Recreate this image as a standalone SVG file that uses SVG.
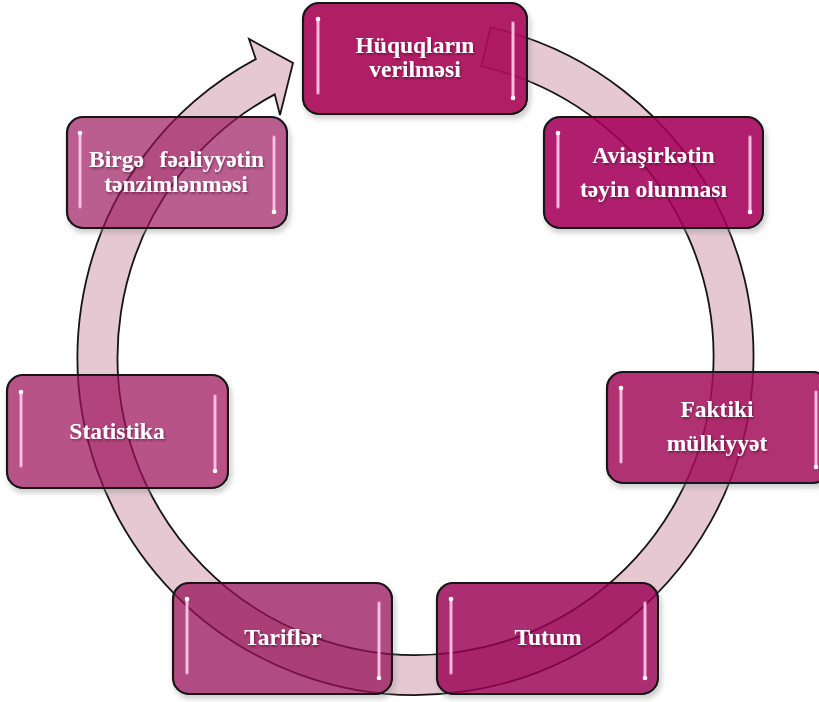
<svg xmlns="http://www.w3.org/2000/svg" width="819" height="702" viewBox="0 0 819 702">
<style>
.ring{fill:#e6c8d2;stroke:#151515;stroke-width:1.8;stroke-linejoin:miter}
.box{stroke:#141414;stroke-width:2.2}
.hl{stroke:#ff9fd2;stroke-width:3.6;stroke-linecap:round;opacity:0.7}
.hc{stroke:#ffe6f4;stroke-width:1.3;stroke-linecap:round}
.dot{fill:#ffffff}
.t{font-family:"Liberation Serif","Times New Roman",serif;font-weight:bold;font-size:23.5px;fill:#ffffff;text-anchor:middle}
</style>
<defs>
<filter id="sh" x="-10%" y="-10%" width="130%" height="140%">
<feComponentTransfer in="SourceAlpha" result="a"><feFuncA type="linear" slope="20"/></feComponentTransfer>
<feGaussianBlur in="a" stdDeviation="2.5" result="b"/>
<feOffset in="b" dx="2" dy="4" result="o"/>
<feComposite in="o" in2="a" operator="out" result="s"/>
<feColorMatrix in="s" type="matrix" values="0 0 0 0 0.3 0 0 0 0 0.3 0 0 0 0 0.3 0 0 0 0.45 0" result="sc"/>
<feMerge><feMergeNode in="sc"/><feMergeNode in="SourceGraphic"/></feMerge>
</filter>
<filter id="ts" x="-10%" y="-30%" width="120%" height="160%">
<feDropShadow dx="1" dy="1.5" stdDeviation="1" flood-color="#3a0020" flood-opacity="0.55"/>
</filter>
</defs>

<g id="connectors">
<path class="ring" d="M490.4,27.4 A338,338 0 1 1 255.8,59.1 L249,39 L293,63 L280,115 L274.7,94.4 A298,298 0 1 0 481.5,66.4 Z"/>
</g>

<g id="node-huquqlarin">
<rect class="box" x="303" y="3" width="224" height="111" rx="16" fill="#aa075a" fill-opacity="0.93" filter="url(#sh)"/>
<line class="hl" x1="318" y1="19" x2="318" y2="93"/><line class="hc" x1="318" y1="19" x2="318" y2="93"/><circle class="dot" cx="318" cy="19" r="2.3"/>
<line class="hl" x1="513" y1="23" x2="513" y2="98"/><line class="hc" x1="513" y1="23" x2="513" y2="98"/><circle class="dot" cx="513" cy="98" r="2.3"/>
<text class="t" filter="url(#ts)" x="415" y="53">Hüquqların</text>
<text class="t" filter="url(#ts)" x="415" y="77">verilməsi</text>
</g>

<g id="node-aviasirketin">
<rect class="box" x="544" y="117" width="219" height="111" rx="16" fill="#a5065a" fill-opacity="0.88" filter="url(#sh)"/>
<line class="hl" x1="558" y1="133" x2="558" y2="207"/><line class="hc" x1="558" y1="133" x2="558" y2="207"/><circle class="dot" cx="558" cy="133" r="2.3"/>
<line class="hl" x1="750" y1="137" x2="750" y2="212"/><line class="hc" x1="750" y1="137" x2="750" y2="212"/><circle class="dot" cx="750" cy="212" r="2.3"/>
<text class="t" filter="url(#ts)" x="653.5" y="163">Aviaşirkətin</text>
<text class="t" filter="url(#ts)" x="653.5" y="197">təyin olunması</text>
</g>

<g id="node-faktiki">
<rect class="box" x="607" y="372" width="222" height="111" rx="16" fill="#a2095a" fill-opacity="0.85" filter="url(#sh)"/>
<line class="hl" x1="621" y1="388" x2="621" y2="462"/><line class="hc" x1="621" y1="388" x2="621" y2="462"/><circle class="dot" cx="621" cy="388" r="2.3"/>
<line class="hl" x1="816" y1="392" x2="816" y2="467"/><line class="hc" x1="816" y1="392" x2="816" y2="467"/><circle class="dot" cx="816" cy="467" r="2.3"/>
<text class="t" filter="url(#ts)" x="717" y="417">Faktiki</text>
<text class="t" filter="url(#ts)" x="717" y="451">mülkiyyət</text>
</g>

<g id="node-tutum">
<rect class="box" x="437" y="583" width="221" height="111" rx="16" fill="#9a0753" fill-opacity="0.82" filter="url(#sh)"/>
<line class="hl" x1="451" y1="599" x2="451" y2="673"/><line class="hc" x1="451" y1="599" x2="451" y2="673"/><circle class="dot" cx="451" cy="599" r="2.3"/>
<line class="hl" x1="645" y1="603" x2="645" y2="678"/><line class="hc" x1="645" y1="603" x2="645" y2="678"/><circle class="dot" cx="645" cy="678" r="2.3"/>
<text class="t" filter="url(#ts)" x="548" y="645">Tutum</text>
</g>

<g id="node-tarifler">
<rect class="box" x="173" y="583" width="219" height="111" rx="16" fill="#961056" fill-opacity="0.75" filter="url(#sh)"/>
<line class="hl" x1="187" y1="599" x2="187" y2="673"/><line class="hc" x1="187" y1="599" x2="187" y2="673"/><circle class="dot" cx="187" cy="599" r="2.3"/>
<line class="hl" x1="379" y1="603" x2="379" y2="678"/><line class="hc" x1="379" y1="603" x2="379" y2="678"/><circle class="dot" cx="379" cy="678" r="2.3"/>
<text class="t" filter="url(#ts)" x="283" y="645">Tariflər</text>
</g>

<g id="node-statistika">
<rect class="box" x="7" y="375" width="221" height="113" rx="16" fill="#9c135a" fill-opacity="0.72" filter="url(#sh)"/>
<line class="hl" x1="21" y1="392" x2="21" y2="466"/><line class="hc" x1="21" y1="392" x2="21" y2="466"/><circle class="dot" cx="21" cy="392" r="2.3"/>
<line class="hl" x1="215" y1="396" x2="215" y2="471"/><line class="hc" x1="215" y1="396" x2="215" y2="471"/><circle class="dot" cx="215" cy="471" r="2.3"/>
<text class="t" filter="url(#ts)" x="117" y="439">Statistika</text>
</g>

<g id="node-birge">
<rect class="box" x="67" y="117" width="220" height="111" rx="16" fill="#9a155c" fill-opacity="0.68" filter="url(#sh)"/>
<line class="hl" x1="80" y1="133" x2="80" y2="207"/><line class="hc" x1="80" y1="133" x2="80" y2="207"/><circle class="dot" cx="80" cy="133" r="2.3"/>
<line class="hl" x1="274" y1="137" x2="274" y2="212"/><line class="hc" x1="274" y1="137" x2="274" y2="212"/><circle class="dot" cx="274" cy="212" r="2.3"/>
<text class="t" filter="url(#ts)" x="89" y="167" style="text-anchor:start">Birgə</text>
<text class="t" filter="url(#ts)" x="264" y="167" style="text-anchor:end">fəaliyyətin</text>
<text class="t" filter="url(#ts)" x="176" y="192">tənzimlənməsi</text>
</g>
</svg>
